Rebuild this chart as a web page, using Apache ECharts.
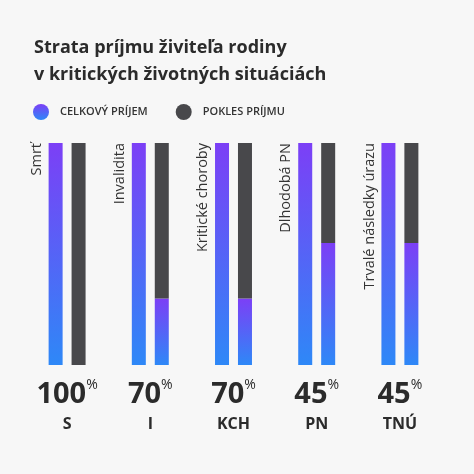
<!DOCTYPE html>
<html><head><meta charset="utf-8">
<script src="https://cdn.jsdelivr.net/npm/echarts@6/dist/echarts.min.js"></script>
<style>html,body{margin:0;padding:0;background:#f7f7f7}#c{width:474px;height:474px}</style>
</head><body><div id="c"></div>
<script>
const codes = ['S','I','KCH','PN','TNÚ'];
const names = ['Smrť','Invalidita','Kritické choroby','Dlhodobá PN','Trvalé následky úrazu'];
const totalIncome = [100,100,100,100,100];
const incomeDrop = [100,70,70,45,45];
const remaining = [0,30,30,55,55];

const grad = () => new echarts.graphic.LinearGradient(0,0,0,1,[{offset:0,color:'#7c3ff6'},{offset:1,color:'#2e88f7'}]);
const chart = echarts.init(document.getElementById('c'));
chart.setOption({
  backgroundColor:'#f7f7f7',
  title:{text:'Strata príjmu živiteľa rodiny\nv kritických životných situáciách',left:29,top:29,
    textStyle:{fontFamily:'Open Sans',fontSize:18,fontWeight:'bold',color:'#2b2b2b',lineHeight:27}},
  legend:{top:99,left:28,itemWidth:16,itemHeight:16,itemGap:28,icon:'circle',
    data:['CELKOVÝ PRÍJEM','POKLES PRÍJMU'],
    textStyle:{fontFamily:'Open Sans',fontSize:11,fontWeight:600,color:'#333',padding:[0,0,0,6]}},
  grid:{left:25.5,right:32.5,top:143,bottom:109},
  xAxis:{type:'category',data:codes,axisLine:{show:false},axisTick:{show:false},
    axisLabel:{margin:13,interval:0,formatter:(v,i)=>'{big|'+incomeDrop[i]+'}{sup|%}\n{code|'+v+'}',
      rich:{big:{fontFamily:'Open Sans',fontSize:29,fontWeight:'bold',color:'#2b2b2b',lineHeight:34},
            sup:{fontFamily:'Open Sans',fontSize:14,color:'#2b2b2b',verticalAlign:'top',lineHeight:34,padding:[0,0,14,0]},
            code:{fontFamily:'Open Sans',fontSize:16,fontWeight:'bold',color:'#2b2b2b',lineHeight:24}}}},
  yAxis:{type:'value',min:0,max:100,show:false,splitLine:{show:false}},
  series:[
    {name:'CELKOVÝ PRÍJEM',type:'bar',stack:'a',barWidth:14,barGap:'64%',data:totalIncome,
      itemStyle:{color:grad()},
      label:{show:true,position:[-12,0],rotate:90,align:'right',verticalAlign:'middle',
        formatter:p=>names[p.dataIndex],fontFamily:'Open Sans',fontSize:14.5,color:'#333'}},
    {name:'remain',type:'bar',stack:'b',barWidth:14,data:remaining,itemStyle:{color:grad()}},
    {name:'POKLES PRÍJMU',type:'bar',stack:'b',barWidth:14,data:incomeDrop,itemStyle:{color:'#48484b'}}
  ]
});
</script></body></html>
